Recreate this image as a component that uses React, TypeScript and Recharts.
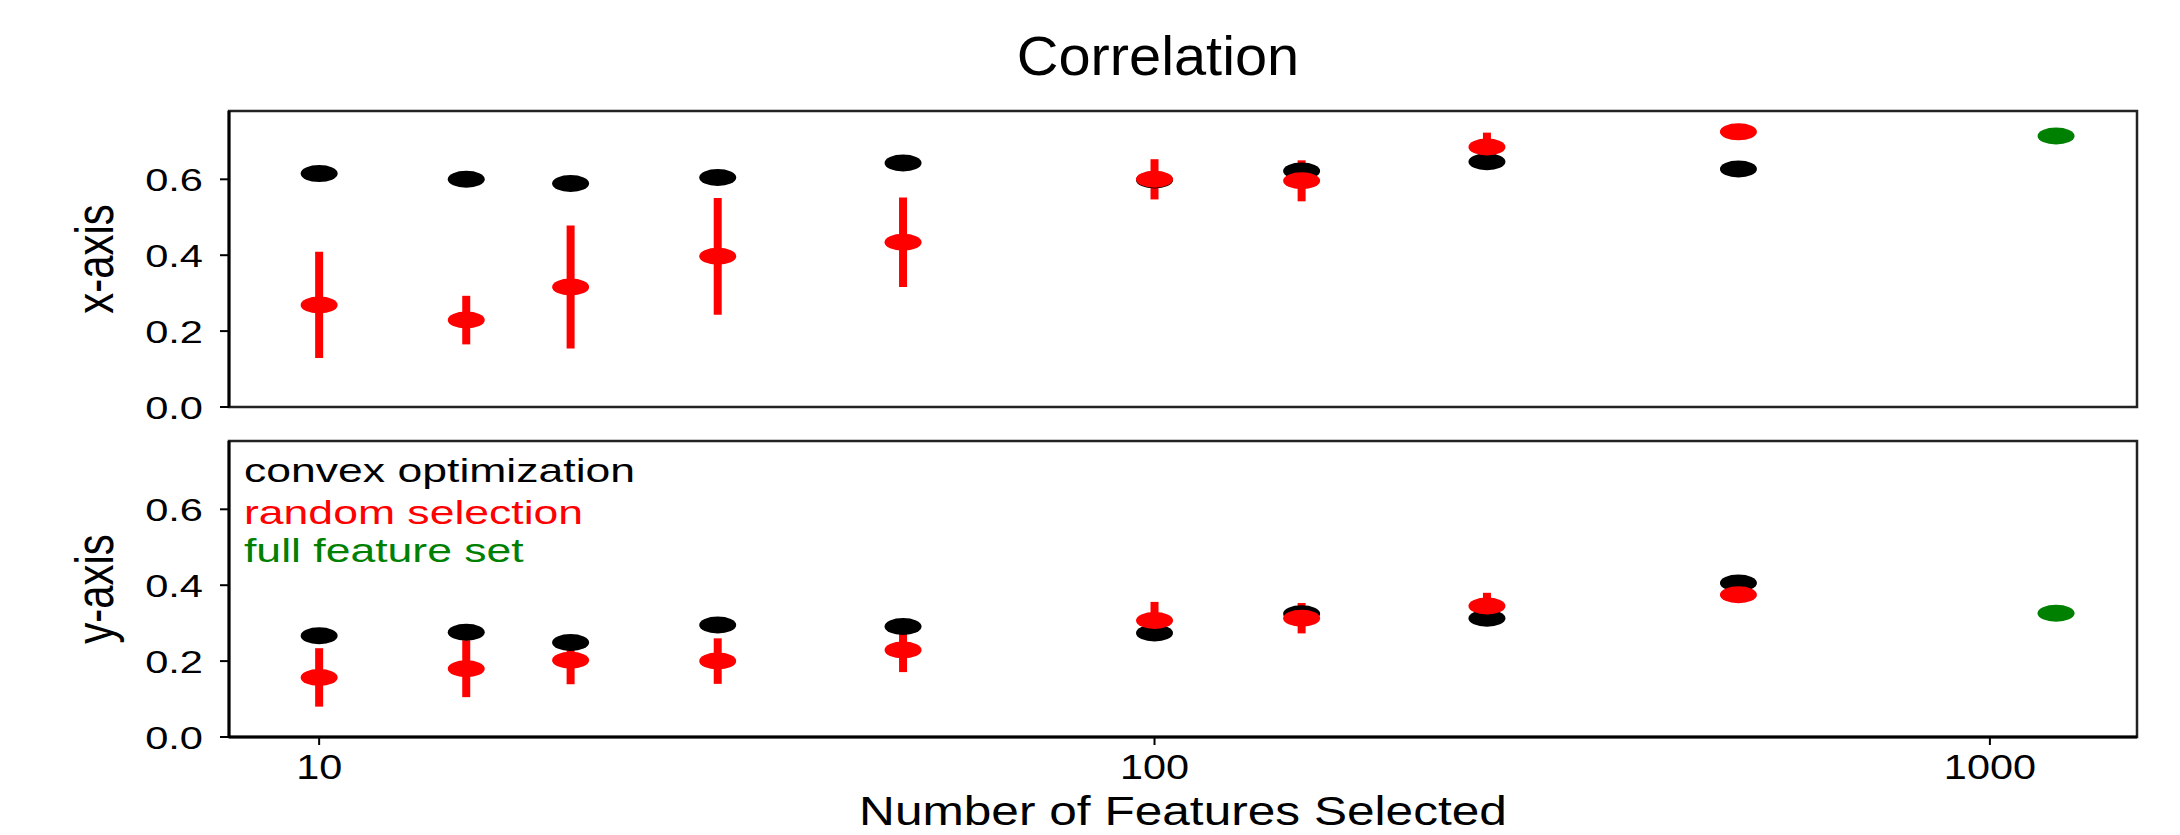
import React from 'react';
import { ScatterChart, Scatter, XAxis, YAxis, ErrorBar, ReferenceArea, Customized } from 'recharts';

// ---- data ----
const features = [10, 15, 20, 30, 50, 100, 150, 250, 500];
const convexXAxis = [0.615, 0.600, 0.589, 0.605, 0.643, 0.598, 0.622, 0.646, 0.627];
const randomXAxis = [0.269, 0.229, 0.316, 0.397, 0.434, 0.600, 0.596, 0.685, 0.725];
const randomXAxisErr = [0.140, 0.064, 0.162, 0.154, 0.118, 0.053, 0.054, 0.038, 0.0];
const convexYAxis = [0.267, 0.276, 0.249, 0.295, 0.291, 0.274, 0.325, 0.313, 0.406];
const randomYAxis = [0.157, 0.180, 0.202, 0.200, 0.229, 0.307, 0.313, 0.345, 0.375];
const randomYAxisErr = [0.077, 0.075, 0.063, 0.060, 0.058, 0.049, 0.040, 0.035, 0.020];
const fullFeatureCount = [1200];
const fullXAxis = [0.714];
const fullYAxis = [0.326];

const xTicks = [10, 100, 1000];
const xTickLabels = ['10', '100', '1000'];
const yTicks = [0, 0.2, 0.4, 0.6];
const yTickLabels = ['0.0', '0.2', '0.4', '0.6'];
const X_DOMAIN: [number, number] = [7.8, 1500];
const Y_DOMAIN: [number, number] = [0, 0.78];

const legendItems = ['convex optimization', 'random selection', 'full feature set'];
const COLORS = { convex: '#000000', random: '#ff0000', full: '#008000' };

const FONT = '"Liberation Sans", Arial, Helvetica, sans-serif';

const mk = (xs: number[], ys: number[], errs?: number[]) =>
  xs.map((x, i) => ({ x, y: ys[i], err: errs ? errs[i] : 0 }));

const ellipse = (color: string) => (p: any) => (
  <ellipse cx={p.cx} cy={p.cy} rx={18.5} ry={8.5} fill={color} />
);

const YTick = (props: any) => {
  const { x, y, payload } = props;
  const idx = yTicks.indexOf(payload.value);
  return (
    <g transform={`translate(${x},${y})`}>
      <text transform="scale(1.3,1)" textAnchor="end" dy="0.36em" fontSize={32} fontFamily={FONT} fill="#000">
        {idx >= 0 ? yTickLabels[idx] : String(payload.value)}
      </text>
    </g>
  );
};

const XTick = (props: any) => {
  const { x, y, payload } = props;
  const idx = xTicks.indexOf(payload.value);
  return (
    <g transform={`translate(${x},${y})`}>
      <text transform="scale(1.15,1)" textAnchor="middle" dy="0.74em" fontSize={36} fontFamily={FONT} fill="#000">
        {idx >= 0 ? xTickLabels[idx] : String(payload.value)}
      </text>
    </g>
  );
};

const sideLabel = (text: string) => (props: any) => {
  const vb = props.viewBox || {};
  const cy = (vb.y || 0) + (vb.height || 0) / 2;
  return (
    <text
      transform={`translate(113,${cy}) scale(1.28,1) rotate(-90)`}
      textAnchor="middle"
      fontSize={42}
      fontFamily={FONT}
      fill="#000"
    >
      {text}
    </text>
  );
};

const bottomLabel = (props: any) => {
  const vb = props.viewBox || {};
  const cx = (vb.x || 0) + (vb.width || 0) / 2;
  return (
    <text transform={`translate(${cx},405) scale(1.21,1)`} textAnchor="middle" fontSize={41} fontFamily={FONT} fill="#000">
      Number of Features Selected
    </text>
  );
};

const Title = () => (
  <text transform="translate(1158,75) scale(1.05,1)" textAnchor="middle" fontSize={55} fontFamily={FONT} fill="#000">
    Correlation
  </text>
);

const LegendBlock = () => {
  const colors = [COLORS.convex, COLORS.random, COLORS.full];
  const baselines = [62, 104, 142];
  return (
    <g>
      {legendItems.map((t, i) => (
        <text
          key={t}
          transform={`translate(244,${baselines[i]}) scale(1.35,1)`}
          fontSize={33}
          fontFamily={FONT}
          fill={colors[i]}
        >
          {t}
        </text>
      ))}
    </g>
  );
};

const axisLine = { stroke: '#000', strokeWidth: 3 };
const tickLine = { stroke: '#000', strokeWidth: 2 };

export default function App() {
  const topConvex = mk(features, convexXAxis);
  const topRandom = mk(features, randomXAxis, randomXAxisErr);
  const topFull = mk(fullFeatureCount, fullXAxis);
  const botConvex = mk(features, convexYAxis);
  const botRandom = mk(features, randomYAxis, randomYAxisErr);
  const botFull = mk(fullFeatureCount, fullYAxis);

  return (
    <div style={{ position: 'absolute', left: 0, top: 0, width: 2180, height: 835, background: '#fff' }}>
      <div style={{ position: 'absolute', left: 0, top: 0 }}>
        <ScatterChart width={2180} height={434} margin={{ top: 111, right: 43, bottom: 27, left: 0 }}>
          <XAxis
            dataKey="x"
            type="number"
            scale="log"
            domain={X_DOMAIN}
            allowDataOverflow
            ticks={xTicks}
            tick={false}
            tickLine={false}
            axisLine={axisLine}
            height={0}
          />
          <YAxis
            dataKey="y"
            type="number"
            domain={Y_DOMAIN}
            allowDataOverflow
            ticks={yTicks}
            tick={<YTick />}
            tickLine={tickLine}
            tickSize={9}
            tickMargin={17}
            axisLine={axisLine}
            width={229}
            label={sideLabel('x-axis')}
          />
          <ReferenceArea x1={X_DOMAIN[0]} x2={X_DOMAIN[1]} y1={Y_DOMAIN[0]} y2={Y_DOMAIN[1]} fill="none" stroke="#222" strokeWidth={2.5} />
          <Scatter data={topConvex} shape={ellipse(COLORS.convex)} isAnimationActive={false} />
          <Scatter data={topRandom} shape={ellipse(COLORS.random)} isAnimationActive={false}>
            <ErrorBar dataKey="err" direction="y" width={0} strokeWidth={8} stroke={COLORS.random} isAnimationActive={false} />
          </Scatter>
          <Scatter data={topFull} shape={ellipse(COLORS.full)} isAnimationActive={false} />
          <Customized component={<Title />} />
        </ScatterChart>
      </div>
      <div style={{ position: 'absolute', left: 0, top: 420 }}>
        <ScatterChart width={2180} height={415} margin={{ top: 21, right: 43, bottom: 0, left: 0 }}>
          <XAxis
            dataKey="x"
            type="number"
            scale="log"
            domain={X_DOMAIN}
            allowDataOverflow
            ticks={xTicks}
            tick={<XTick />}
            tickLine={tickLine}
            tickSize={8}
            tickMargin={7}
            axisLine={axisLine}
            height={98}
            label={bottomLabel}
          />
          <YAxis
            dataKey="y"
            type="number"
            domain={Y_DOMAIN}
            allowDataOverflow
            ticks={yTicks}
            tick={<YTick />}
            tickLine={tickLine}
            tickSize={9}
            tickMargin={17}
            axisLine={axisLine}
            width={229}
            label={sideLabel('y-axis')}
          />
          <ReferenceArea x1={X_DOMAIN[0]} x2={X_DOMAIN[1]} y1={Y_DOMAIN[0]} y2={Y_DOMAIN[1]} fill="none" stroke="#222" strokeWidth={2.5} />
          <Scatter data={botConvex} shape={ellipse(COLORS.convex)} isAnimationActive={false} />
          <Scatter data={botRandom} shape={ellipse(COLORS.random)} isAnimationActive={false}>
            <ErrorBar dataKey="err" direction="y" width={0} strokeWidth={8} stroke={COLORS.random} isAnimationActive={false} />
          </Scatter>
          <Scatter data={botFull} shape={ellipse(COLORS.full)} isAnimationActive={false} />
          <Customized component={<LegendBlock />} />
        </ScatterChart>
      </div>
    </div>
  );
}
